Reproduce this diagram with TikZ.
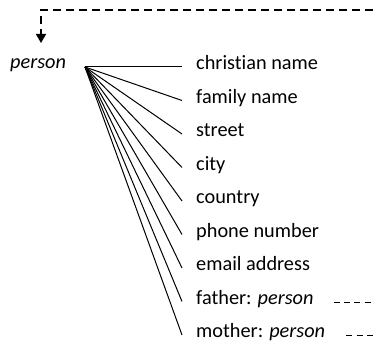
\documentclass[tikz,border=0pt]{standalone}
\usepackage{fontspec}
\setmainfont{Carlito}[Ligatures=NoCommon]
\usetikzlibrary{arrows.meta}
\tikzset{
  lbl/.style={anchor=base west, inner sep=0pt, font=\fontsize{20.3}{24}\selectfont},
  fanline/.style={line width=1pt},
  refdash/.style={line width=1.6pt, dash pattern=on 8pt off 5pt},
  smalldash/.style={line width=1pt, dash pattern=on 6pt off 4.3pt}
}
\begin{document}
\begin{tikzpicture}[x=1pt,y=-1pt]
\useasboundingbox (0,0) rectangle (373,344);
\node[lbl] (person) at (10,69) {\itshape person};
\coordinate (fan) at (85,67);
\coordinate (tip) at (41,43);
\coordinate (topR) at (373,10);
\foreach \i/\t in {0/christian name,1/family name,2/street,3/city,4/country,5/phone number,6/email address,7/father: \textit{person},8/mother: \textit{person}}{
  \pgfmathsetmacro{\yy}{67+33.5*\i}
  \coordinate (e\i) at (182,\yy);
  \node[lbl] (a\i) at (196,\yy+3) {\t};
  \draw[fanline] (fan) -- (e\i);
}
\coordinate (fr) at (373,303);
\coordinate (mr) at (373,336);
\draw[smalldash] ([xshift=20pt]a7.base east) ++(0,-2) coordinate (fs) -- (fs -| fr);
\draw[smalldash] ([xshift=21pt]a8.base east) ++(0,-2) coordinate (ms) -- (ms -| mr);
\draw[refdash, -{Triangle[length=9pt,width=10pt]}] (topR) -| (tip);
\end{tikzpicture}
\end{document}
